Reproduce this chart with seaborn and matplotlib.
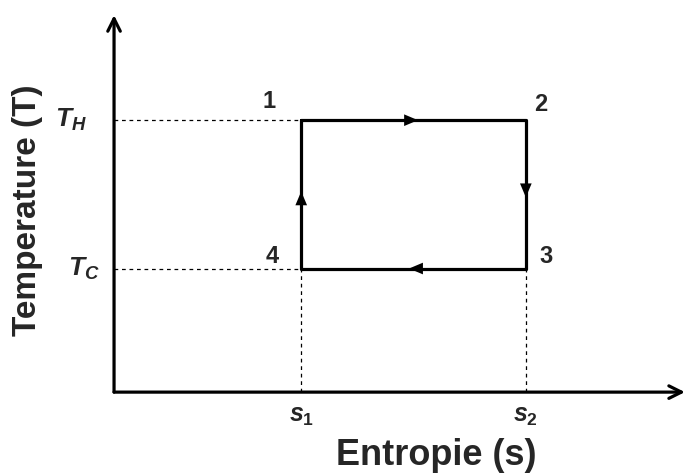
import matplotlib
matplotlib.use('Agg')
import matplotlib.pyplot as plt
import seaborn as sns
import pandas as pd

# Carnot cycle corner values (arbitrary units)
s_values = [1.0, 2.2]      # s1, s2
T_values = [1.0, 2.2]      # T_C, T_H
cycle_points = ['1', '2', '3', '4', '1']
cycle_s = [1.0, 2.2, 2.2, 1.0, 1.0]
cycle_T = [2.2, 2.2, 1.0, 1.0, 2.2]
s_tick_labels = ['$s_1$', '$s_2$']
T_tick_labels = ['$T_C$', '$T_H$']

sns.set_style('white')
plt.rcParams['font.family'] = ['Liberation Sans', 'DejaVu Sans']
plt.rcParams['font.weight'] = 'bold'
plt.rcParams['mathtext.fontset'] = 'custom'
plt.rcParams['mathtext.it'] = 'Liberation Sans:italic:bold'
plt.rcParams['mathtext.rm'] = 'Liberation Sans:bold'

fig = plt.figure(figsize=(6.87, 4.73), dpi=100)
ax = fig.add_axes([0.166, 0.171, 0.831, 0.797])

# the cycle 1 -> 2 -> 3 -> 4 -> 1
cycle = pd.DataFrame({'s': cycle_s, 'T': cycle_T})
sns.lineplot(data=cycle, x='s', y='T', sort=False, estimator=None,
             color='black', lw=2.3, ax=ax)

# direction arrows at middle of each leg
for i in range(4):
    s0, s1 = cycle_s[i], cycle_s[i + 1]
    t0, t1 = cycle_T[i], cycle_T[i + 1]
    ms, mt = (s0 + s1) / 2, (t0 + t1) / 2
    ds, dt = (s1 - s0) * 0.02, (t1 - t0) * 0.02
    ax.annotate('', xy=(ms + ds, mt + dt), xytext=(ms - ds, mt - dt),
                arrowprops=dict(arrowstyle='-|>,head_length=1.0,head_width=0.42',
                                color='black', lw=0, shrinkA=0, shrinkB=0))

# dashed guide lines
for t in T_values:
    ax.plot([0, s_values[0]], [t, t], ls=(0, (3, 3)), color='black', lw=0.9)
for s in s_values:
    ax.plot([s, s], [0, T_values[0]], ls=(0, (3, 3)), color='black', lw=0.9)

# corner labels
offsets = {'1': (-0.17, 0.15), '2': (0.08, 0.13), '3': (0.11, 0.10), '4': (-0.155, 0.10)}
for lab, s, t in zip(cycle_points[:4], cycle_s[:4], cycle_T[:4]):
    dx, dy = offsets[lab]
    ax.text(s + dx, t + dy, lab, fontsize=17, fontweight='bold', ha='center', va='center')

ax.set_xlim(0, 3.05)
ax.set_ylim(0, 3.05)
ax.set_xticks([])
ax.set_yticks([])
ax.set_xlabel('')
ax.set_ylabel('')
for sp in ax.spines.values():
    sp.set_visible(False)

# axes with arrow heads
for tip in [(3.05, 0), (0, 3.05)]:
    ax.annotate('', xy=tip, xytext=(0, 0), annotation_clip=False,
                arrowprops=dict(arrowstyle='->,head_length=0.9,head_width=0.45', color='black',
                                lw=2.3, shrinkA=0, shrinkB=0))

# tick-like labels
for s, lab in zip(s_values, s_tick_labels):
    ax.text(s, -0.19, lab, fontsize=18, ha='center', va='center')
ax.text(-0.16, T_values[0], T_tick_labels[0], fontsize=19, ha='center', va='center')
ax.text(-0.23, T_values[1], T_tick_labels[1], fontsize=19, ha='center', va='center')

ax.text(1.72, -0.51, 'Entropie (s)', fontsize=26, fontweight='bold', ha='center', va='center')
ax.text(-0.46, 1.47, 'Temperature (T)', fontsize=24, fontweight='bold', ha='center', va='center',
        rotation=90)

fig.savefig('out.png', dpi=100)
